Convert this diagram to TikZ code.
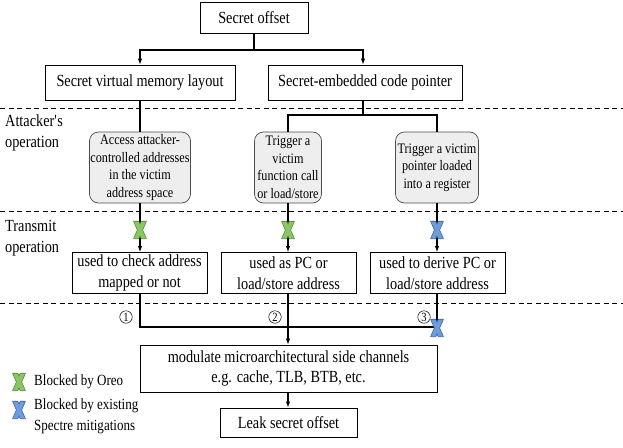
\documentclass[tikz,border=0pt]{standalone}
\usepackage{fontspec}
\setmainfont{Liberation Serif}[FakeStretch=0.84]
\usetikzlibrary{arrows.meta}

\definecolor{oreogreen}{HTML}{8CC663}
\definecolor{oreogreenline}{HTML}{4E7D38}
\definecolor{specblue}{HTML}{6C9CDB}
\definecolor{specblueline}{HTML}{3A5E96}
\definecolor{opfill}{HTML}{EEEEEE}

\begin{document}
\begin{tikzpicture}[x=1pt,y=-1pt,
  box/.style={draw, line width=0.8pt, fill=white, align=center, inner sep=0pt,
    font=\fontsize{17}{20.5}\selectfont},
  opbox/.style={draw=black!70, line width=0.7pt, fill=opfill, rounded corners=9pt,
    align=center, inner sep=0pt, font=\fontsize{14.5}{17.5}\selectfont},
  conn/.style={line width=1.1pt},
  arr/.style={conn, -{Latex[length=6pt,width=4.5pt]}},
  sep/.style={dash pattern=on 5pt off 3.5pt, line width=0.9pt},
  lbl/.style={anchor=west, align=left, inner sep=0pt, font=\fontsize{17}{20.5}\selectfont},
  legend/.style={anchor=west, align=left, inner sep=0pt, font=\fontsize{15.5}{21}\selectfont},
  num/.style={circle, draw, line width=0.5pt, inner sep=0pt, minimum size=12.5pt,
    font=\fontsize{12.5}{12.5}\selectfont},
  pics/xmark/.style 2 args={code={
    \draw[#2, line width=1.3pt, line join=round]
      (-6,-8.5) -- (-1.5,-8.5) -- (6,8.5) -- (1.5,8.5) -- cycle
      (6,-8.5) -- (1.5,-8.5) -- (-6,8.5) -- (-1.5,8.5) -- cycle;
    \fill[#1] (-6,-8.5) -- (-1.5,-8.5) -- (6,8.5) -- (1.5,8.5) -- cycle;
    \fill[#1] (6,-8.5) -- (1.5,-8.5) -- (-6,8.5) -- (-1.5,8.5) -- cycle;
  }}
]
\useasboundingbox (0,0) rectangle (623,447);

% layer separators
\draw[sep] (0,108) -- (623,108);
\draw[sep] (0,211) -- (623,211);
\draw[sep] (0,303) -- (623,303);

% layer labels
\node[lbl] (attlbl) at (5,133) {Attacker\textquotesingle s\\operation};
\node[lbl] (txlbl) at (5,238) {Transmit\\operation};

% secrets
\node[box, minimum width=108pt, minimum height=31pt] (so) at (254,18) {Secret offset};
\node[box, minimum width=190pt, minimum height=35pt] (svml) at (140,82.5) {Secret virtual memory layout};
\node[box, minimum width=194pt, minimum height=35pt] (secp) at (365,82.5) {Secret-embedded code pointer};

% attacker operations
\node[opbox, minimum width=101pt, minimum height=71pt] (opa) at (140,167.5)
  {Access attacker-\\controlled addresses\\in the victim\\address space};
\node[opbox, minimum width=67pt, minimum height=71pt] (opb) at (288,167.5)
  {Trigger a\\victim\\function call\\or load/store};
\node[opbox, minimum width=83pt, minimum height=71pt] (opc) at (437,167.5)
  {Trigger a victim\\pointer loaded\\into a register};

% transmit operations
\node[box, minimum width=135pt, minimum height=41pt] (ta) at (139.5,273)
  {used to check address\\mapped or not};
\node[box, minimum width=135pt, minimum height=41pt] (tb) at (288.5,273)
  {used as PC or\\load/store address};
\node[box, minimum width=135pt, minimum height=41pt] (tc) at (437.5,273)
  {used to derive PC or\\load/store address};

% side channel and leak
\node[box, minimum width=297pt, minimum height=47pt] (mod) at (288.5,368.5)
  {modulate microarchitectural side channels\\e.g. cache, TLB, BTB, etc.};
\node[box, minimum width=137pt, minimum height=29pt] (leak) at (288.5,422.5)
  {Leak secret offset};

% junction points
\coordinate (j0) at (254,50);
\coordinate (j1) at (363,115);
\coordinate (j2) at (288,327);

% secret offset split
\draw[conn] (so.south) -- (j0);
\draw[arr] (j0) -| (svml.north);
\draw[arr] (j0) -| (secp.north -| j1);

% into attacker operations
\draw[conn] (svml.south) -- (opa.north);
\draw[conn] (secp.south -| j1) -- (j1);
\draw[conn] (j1) -| (opb.north);
\draw[conn] (j1) -| (opc.north);

% into transmit operations
\draw[arr] (opa.south) -- (opa.south |- ta.north);
\draw[arr] (opb.south) -- (opb.south |- tb.north);
\draw[arr] (opc.south) -- (opc.south |- tc.north);

% into side channel
\draw[conn] (ta.south -| opa.south) |- (j2);
\draw[conn] (tc.south -| opc.south) |- (j2);
\draw[arr] (tb.south -| opb.south) -- (opb.south |- mod.north);
\draw[arr] (mod.south -| opb.south) -- (opb.south |- leak.north);

% path numbers
\node[num] (n1) at (126,317) {1};
\node[num] (n2) at (275,317) {2};
\node[num] (n3) at (424,317) {3};

% blocked paths
\pic at (140,230) {xmark={oreogreen}{oreogreenline}};
\pic at (288,230) {xmark={oreogreen}{oreogreenline}};
\pic at (437,230) {xmark={specblue}{specblueline}};
\pic at (437,328) {xmark={specblue}{specblueline}};

% legend
\pic at (19,382) {xmark={oreogreen}{oreogreenline}};
\node[legend] (lg1) at (34,382) {Blocked by Oreo};
\pic at (19,410) {xmark={specblue}{specblueline}};
\node[legend, anchor=north west] (lg2) at (34,399) {Blocked by existing\\Spectre mitigations};
\end{tikzpicture}
\end{document}
